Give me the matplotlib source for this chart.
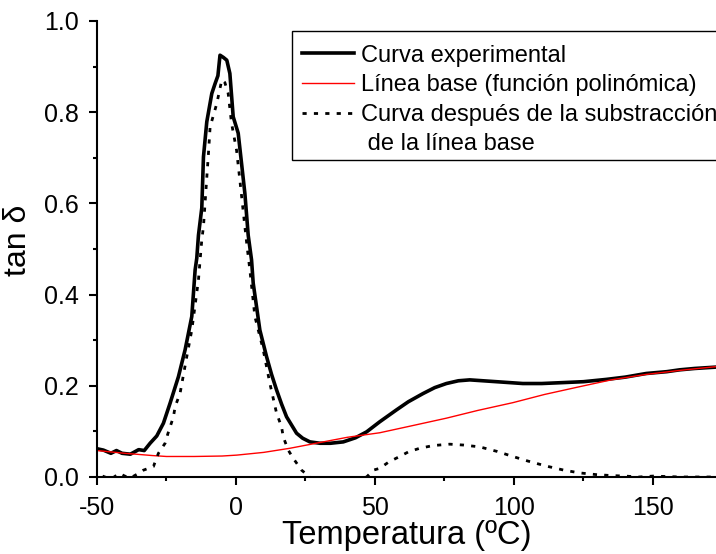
import matplotlib
matplotlib.use("Agg")
import matplotlib.pyplot as plt
from matplotlib.lines import Line2D
from matplotlib.patches import Rectangle
from matplotlib.ticker import MultipleLocator, FormatStrFormatter

plt.rcParams['font.family'] = ['Liberation Sans', 'DejaVu Sans']
plt.rcParams['axes.unicode_minus'] = False

# experimental curve (tan delta vs temperature)
exp_t = [-50, -47.7, -45, -43, -41, -38, -35, -33, -30.9, -28.5, -26.1, -23.7,
         -20.7, -18.3, -15.9, -14.7, -14.1, -13.5, -12.3, -11.7, -10.5, -8.7,
         -7.5, -6.5, -5.75, -4.5, -3.3, -2.2, -1.0, 0.8, 2.0, 3.2, 4.4, 5.6,
         6.2, 8.6, 11.0, 12.8, 14.6, 16.4, 18.2, 21.8, 24, 26.6, 30.2, 34,
         38.6, 43, 47, 51.7, 57.7, 62, 67.3, 71.5, 75.7, 80, 84.1, 93.7,
         103.2, 110, 117.6, 125, 133.2, 140, 147.6, 155, 159.6, 165, 172.7]
exp_v = [0.062, 0.059, 0.052, 0.058, 0.052, 0.050, 0.060, 0.058, 0.074, 0.090,
         0.118, 0.162, 0.220, 0.279, 0.352, 0.454, 0.480, 0.530, 0.590, 0.702,
         0.779, 0.841, 0.863, 0.880, 0.925, 0.920, 0.914, 0.885, 0.790, 0.754,
         0.688, 0.622, 0.530, 0.476, 0.425, 0.322, 0.264, 0.225, 0.191, 0.160,
         0.132, 0.096, 0.085, 0.077, 0.074, 0.074, 0.077, 0.086, 0.099, 0.121,
         0.147, 0.165, 0.183, 0.196, 0.205, 0.211, 0.213, 0.209, 0.205, 0.205,
         0.207, 0.209, 0.214, 0.219, 0.227, 0.231, 0.235, 0.238, 0.241]

# polynomial baseline
base_t = [-50, -40, -30, -25, -15, -5, 0.3, 10, 19.4, 31.4, 40, 51.7, 63,
          75.7, 87, 99.6, 111, 123.6, 135, 147.6, 160, 172.7]
base_v = [0.058, 0.052, 0.047, 0.045, 0.045, 0.046, 0.048, 0.054, 0.063,
          0.077, 0.087, 0.097, 0.112, 0.129, 0.146, 0.163, 0.181, 0.198,
          0.213, 0.225, 0.234, 0.242]

# curve after baseline subtraction
sub_t = [-48, -45, -42, -40, -38, -35, -33.3, -29.7, -27.9, -25.5, -24.5,
         -22.5, -21.9, -20.1, -17.7, -15.9, -13.5, -12.3, -11.7, -9.9, -9.3,
         -6.9, -5.1, -4, -2.8, -1.6, 0.2, 1.4, 3.2, 4.0, 5.0, 6.8, 9.8, 12.2,
         14.6, 16.4, 17.0, 18.8, 20.6, 23.6, 26.6, 28, 35, 40, 45, 47, 49.4,
         51.7, 55, 58.9, 62, 66.1, 71, 76.9, 82, 87.7, 94, 99.6, 105, 111.6,
         118, 123.6, 130, 135.6, 140, 145, 150, 155, 160, 165, 172.7]
sub_v = [0.002, -0.005, 0.008, 0.002, -0.002, 0.008, 0.015, 0.023, 0.052,
         0.074, 0.095, 0.132, 0.154, 0.184, 0.264, 0.322, 0.432, 0.520, 0.549,
         0.710, 0.768, 0.819, 0.871, 0.865, 0.841, 0.776, 0.717, 0.651, 0.549,
         0.505, 0.454, 0.352, 0.279, 0.205, 0.140, 0.110, 0.088, 0.059, 0.041,
         0.015, 0.0, -0.005, -0.01, -0.008, -0.003, 0.0, 0.015, 0.019, 0.033,
         0.045, 0.055, 0.063, 0.069, 0.072, 0.070, 0.066, 0.056, 0.045, 0.035,
         0.024, 0.015, 0.009, 0.005, 0.003, 0.002, 0.0, 0.002, 0.001, 0.0,
         0.0, 0.0]

W, H = 716, 554
fig = plt.figure(figsize=(W / 100, H / 100), dpi=100)
ax = fig.add_axes([97 / W, 1 - 477 / H, 1 - 97 / W, (477 - 21) / H])

ax.plot(exp_t, exp_v, color='black', lw=2.6, label='Curva experimental')
ax.plot(base_t, base_v, color='red', lw=1.0, label='Línea base (función polinómica)')
ax.plot(sub_t, sub_v, color='black', lw=2.0, linestyle=(0, (1.5, 2.6)),
        label='Curva después de la substracción')

ax.set_xlim(-50, 172.7)
ax.set_ylim(0, 1.0)
ax.xaxis.set_major_locator(MultipleLocator(50))
ax.xaxis.set_minor_locator(MultipleLocator(25))
ax.yaxis.set_major_locator(MultipleLocator(0.2))
ax.yaxis.set_minor_locator(MultipleLocator(0.1))
ax.yaxis.set_major_formatter(FormatStrFormatter('%.1f'))

for side in ['top', 'right']:
    ax.spines[side].set_visible(False)
for side in ['left', 'bottom']:
    ax.spines[side].set_linewidth(1.5)
ax.tick_params(which='major', direction='out', length=6, width=1.5, labelsize=18)
ax.tick_params(which='minor', direction='out', length=3, width=1.5)
ax.tick_params(axis='x', which='major', pad=8)
ax.tick_params(axis='y', which='major', pad=7)

ax.set_xlabel('Temperatura (ºC)', fontsize=23.5, labelpad=0)
ax.set_ylabel('tan δ', fontsize=23, labelpad=8)
ax.yaxis.label.set_y(0.52)

# legend frame drawn in figure pixels (runs past the right edge like the original)
frame = Rectangle((292 / W, 1 - 160 / H), 440 / W, 129 / H, transform=fig.transFigure,
                  facecolor='white', edgecolor='black', lw=1.0, zorder=5)
fig.patches.append(frame)

handles, labels = ax.get_legend_handles_labels()
handles.append(Line2D([], [], color='none'))
labels.append(' de la línea base')
leg = fig.legend(handles, labels, loc='upper left',
                 bbox_to_anchor=(288 / W, 1 - 31 / H),
                 fontsize=17, frameon=False, borderaxespad=0,
                 handlelength=2.2, handletextpad=0.3, labelspacing=0.32,
                 borderpad=0.58)
leg.set_zorder(6)

fig.savefig('out.png', dpi=100)
